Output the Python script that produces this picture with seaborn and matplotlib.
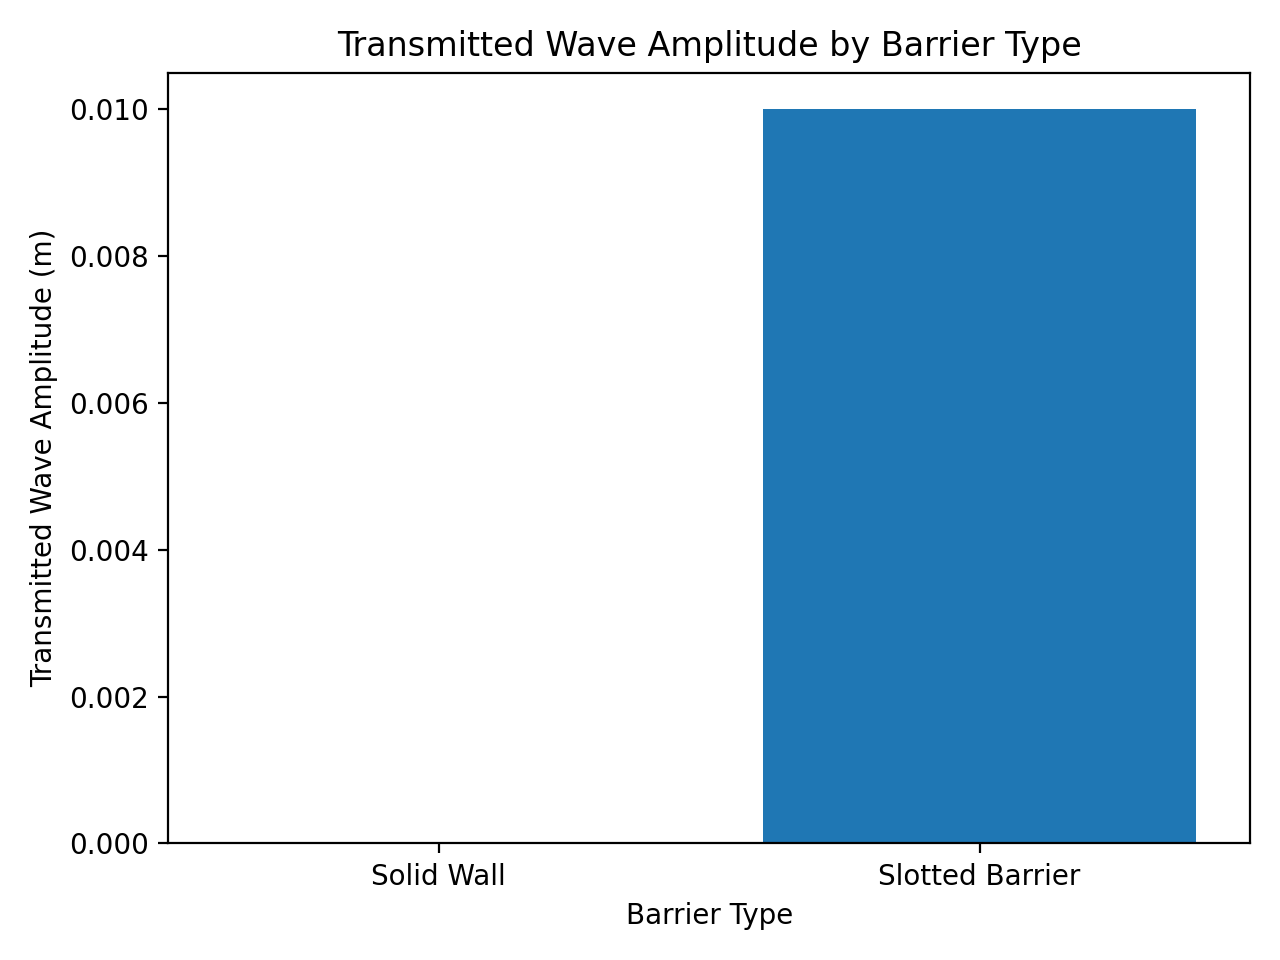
import matplotlib
matplotlib.use("Agg")
import matplotlib.pyplot as plt
import seaborn as sns
import pandas as pd

categories = ["Solid Wall", "Slotted Barrier"]
amplitudes = [0.0, 0.01]

df = pd.DataFrame({"Barrier Type": categories, "Amplitude": amplitudes})

fig, ax = plt.subplots(figsize=(6.4, 4.8), dpi=200)
sns.barplot(data=df, x="Barrier Type", y="Amplitude", color="#1f77b4",
            saturation=1, width=0.8, ax=ax)
ax.set_title("Transmitted Wave Amplitude by Barrier Type")
ax.set_xlabel("Barrier Type")
ax.set_ylabel("Transmitted Wave Amplitude (m)")
ax.set_xlim(-0.5, 1.5)
ax.set_ylim(0, 0.0105)
fig.tight_layout()
fig.savefig("out.png", dpi=200)
